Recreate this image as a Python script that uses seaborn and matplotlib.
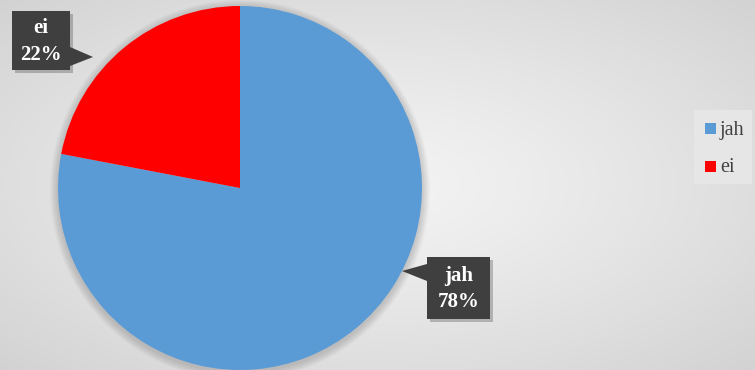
import numpy as np
import matplotlib
matplotlib.use("Agg")
import matplotlib.pyplot as plt
from matplotlib.patches import Rectangle, Polygon, Circle
import seaborn as sns

# ---- data ----
categories = ["jah", "ei"]
values = [78, 22]
pct_labels = ["78%", "22%"]
colors = ["#5B9BD5", "#FF0000"]

sns.set_style("white")
plt.rcParams["font.family"] = ["Liberation Serif", "DejaVu Serif"]
SERIF = "Liberation Serif"

W, H = 755, 370
fig = plt.figure(figsize=(W / 100, H / 100), dpi=100)
ax = fig.add_axes([0, 0, 1, 1])

# radial gradient background
yy, xx = np.mgrid[0:H, 0:W]
cx, cy = W / 2, H / 2
r = np.sqrt(((xx - cx) / (W / 2)) ** 2 + ((yy - cy) / (H / 2)) ** 2) / np.sqrt(2)
g = 0.955 - 0.13 * np.clip(r, 0, 1) ** 1.2
ax.imshow(np.dstack([g, g, g]), extent=(0, W, 0, H), origin="lower", zorder=0, aspect="auto")

# pie geometry
pcx, pcy, R = 240, H - 188, 182

# soft shadow around pie
for i in range(8):
    ax.add_patch(Circle((pcx, pcy - 2), R + 1 + i * 1.0, color="black",
                        alpha=0.018, lw=0, zorder=1))

wedges, _ = ax.pie(values, colors=colors, startangle=90, counterclock=False,
                   center=(pcx, pcy), radius=R, frame=True,
                   wedgeprops=dict(linewidth=0), labels=None)
for w in wedges:
    w.set_zorder(3)
ax.set_xlim(0, W)
ax.set_ylim(0, H)
ax.set_aspect("equal")
ax.axis("off")

# callouts
callouts = {
    "jah": dict(box=(427, H - 319, 63, 62), tip=(402, H - 271), side="left", base=(H - 264, H - 281)),
    "ei": dict(box=(12, H - 70, 58, 59), tip=(93, H - 57), side="right", base=(H - 47, H - 66)),
}
box_col = "#3f3f3f"
for cat, pl in zip(categories, pct_labels):
    c = callouts[cat]
    x0, y0, bw, bh = c["box"]
    ax.add_patch(Rectangle((x0 + 3, y0 - 3), bw, bh, color="black", alpha=0.22, lw=0, zorder=4))
    ax.add_patch(Rectangle((x0, y0), bw, bh, color=box_col, lw=0, zorder=5))
    bx = x0 if c["side"] == "left" else x0 + bw
    ax.add_patch(Polygon([(bx, c["base"][0]), c["tip"], (bx, c["base"][1])],
                         closed=True, color=box_col, lw=0, zorder=5))
    ax.text(x0 + bw / 2, y0 + bh / 2 - 1, f"{cat}\n{pl}", ha="center", va="center",
            color="white", fontsize=15, fontweight="bold", family=SERIF,
            linespacing=1.45, zorder=6)

# legend
ax.add_patch(Rectangle((694, H - 184), 58, 74, color="#e6e6e6", lw=0, zorder=2))
leg_y = [H - 128, H - 166]
for cat, col, ly in zip(categories, colors, leg_y):
    ax.add_patch(Rectangle((705, ly - 5.5), 11, 11, color=col, lw=0, zorder=3))
    ax.text(720, ly - 2, cat, ha="left", va="center", fontsize=14.5, family=SERIF,
            color="#404040", zorder=3)

fig.savefig("out.png", dpi=100)
